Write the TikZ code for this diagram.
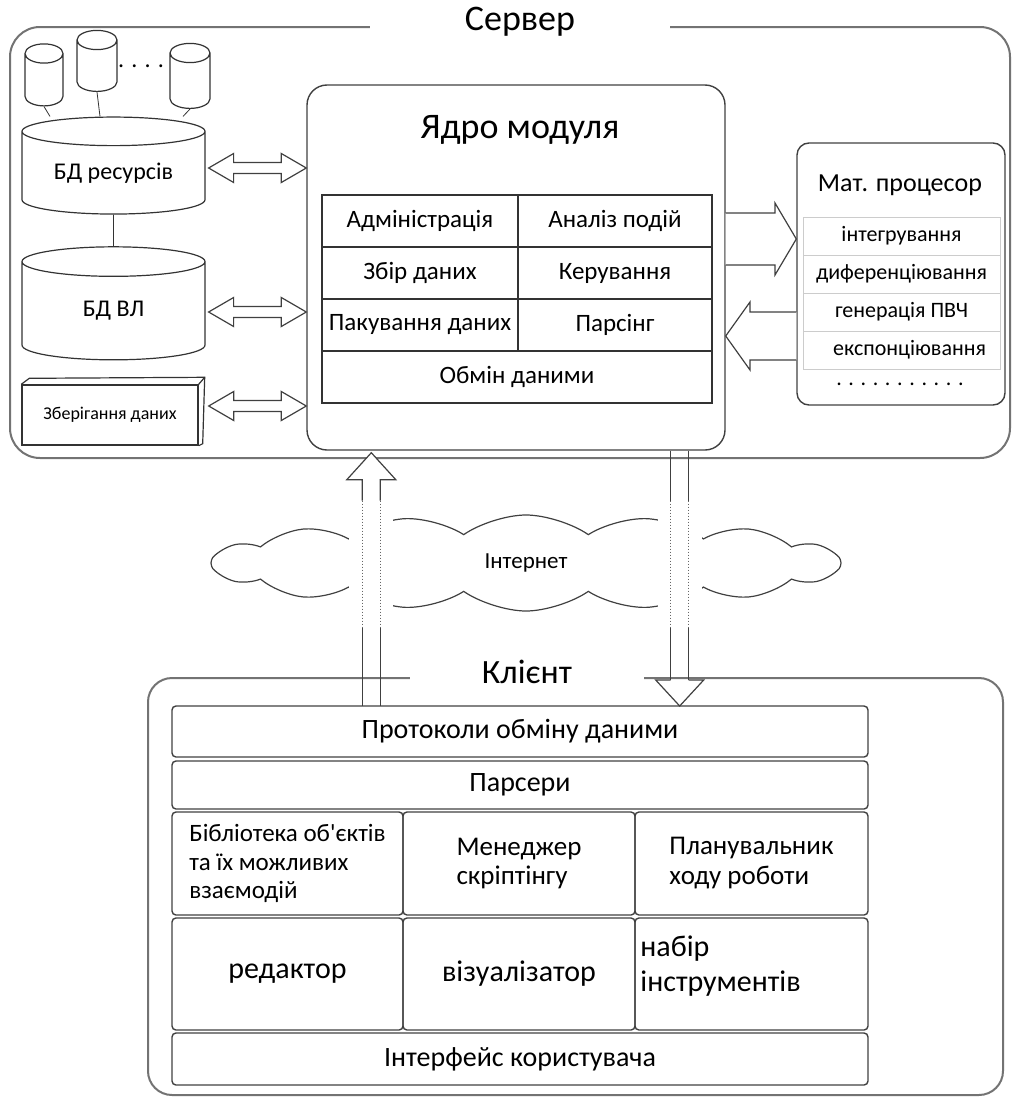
\documentclass[tikz,border=0pt]{standalone}
\usepackage{fontspec}
\setmainfont{Carlito}[Ligatures=TeXOff]
\usetikzlibrary{shapes.geometric,shapes.symbols,positioning,calc}

\tikzset{
  frame/.style={draw=black!55, line width=1pt, rounded corners=#1},
  box/.style={draw=black!75, line width=0.7pt, rounded corners=#1},
  cell/.style={draw=black!80, line width=0.8pt, inner sep=0pt, outer sep=0pt, minimum height=26pt},
  ccell/.style={draw=black!75, line width=0.7pt, rounded corners=2pt, inner sep=0pt, outer sep=0pt},
  mcell/.style={draw=black!20, line width=0.5pt, inner sep=0pt, outer sep=0pt, minimum width=98.5pt, minimum height=19pt},
  cyl/.style={draw=black!80, line width=0.6pt, cylinder, shape border rotate=90, inner sep=0pt},
  blockarrow/.style={draw=black!75, line width=0.6pt, fill=white},
}

% hollow double arrow between two points on one line
\newcommand{\dblarrow}[2]{%
  \draw[blockarrow] #1 -- ($#1+(25,-14.5)$) -- ($#1+(25,-5.5)$)
    -- ($#2+(-25,-5.5)$) -- ($#2+(-25,-14.5)$) -- #2
    -- ($#2+(-25,14.5)$) -- ($#2+(-25,5.5)$) -- ($#1+(25,5.5)$)
    -- ($#1+(25,14.5)$) -- cycle;}

\begin{document}
\begin{tikzpicture}[x=0.5pt,y=-0.5pt]
  \useasboundingbox (0,0) rectangle (1012,1103);

  % server
  \node[frame=15pt, minimum width=500pt, minimum height=215.5pt] (server) at (510,242.5) {};
  \node[fill=white, minimum width=150pt, font=\fontsize{18}{20}\selectfont] (srvtitle) at (520,22) {Сервер};

  % databases
  \node[cyl, minimum width=19pt, minimum height=31pt, aspect=0.6] (c1) at (44,80) {\hspace*{16pt}};
  \node[cyl, minimum width=20pt, minimum height=30.5pt, aspect=0.6] (c2) at (97,66) {\hspace*{16pt}};
  \node[cyl, minimum width=20pt, minimum height=32.5pt, aspect=0.6] (c3) at (190,81) {\hspace*{16pt}};
  \node[font=\fontsize{12}{14}\selectfont] (cdots) at (141,66) {. . . .};
  \node[cyl, minimum width=91.5pt, minimum height=48.5pt, aspect=0.24, font=\fontsize{12}{14}\selectfont] (bdres) at (113.5,173) {БД ресурсів};
  \node[cyl, minimum width=91.5pt, minimum height=56.5pt, aspect=0.48, font=\fontsize{12}{14}\selectfont] (bdvl) at (113.5,311) {БД ВЛ};
  \draw[black!80] (c1.south) -- (bdres.north -| 50,0);
  \draw[black!80] (c2.south) -- (bdres.north -| 100,0);
  \draw[black!80] (c3.south) -- (bdres.north -| 183,0);
  \draw[black!80] (bdres.south) -- (bdvl.north);

  \node[draw=black!80, line width=0.7pt, minimum width=88pt, minimum height=30pt, inner sep=0pt,
        font=\fontsize{9}{11}\selectfont] (store) at (110,415) {Зберігання даних};
  \draw[black!80, line width=0.6pt] (store.north west) -- ++(8,-6) -- ($(store.north east)+(6,-7)$)
    -- ($(store.south east)+(4,-2)$) -- (store.south east);
  \draw[black!80, line width=0.6pt] (store.north east) -- ($(store.north east)+(6,-7)$);

  % core
  \node[box=10pt, minimum width=209pt, minimum height=182.5pt] (core) at (516,267.5) {};
  \node[font=\fontsize{18}{20}\selectfont] (coretitle) at (520,130) {Ядро модуля};
  \begin{scope}[every node/.append style={font=\fontsize{12.5}{14}\selectfont}]
    \node[cell, minimum width=98pt, anchor=north west] (adm) at (322,195) {Адміністрація};
    \node[cell, minimum width=97pt, right=0pt of adm] (anl) {Аналіз подій};
    \node[cell, minimum width=98pt, below=0pt of adm] (zbir) {Збір даних};
    \node[cell, minimum width=97pt, below=0pt of anl] (ker) {Керування};
    \node[cell, minimum width=98pt, below=0pt of zbir] (pak) {Пакування даних};
    \node[cell, minimum width=97pt, below=0pt of ker] (prs) {Парсінг};
    \node[cell, minimum width=195pt, anchor=north west] (obm) at (pak.south west) {Обмін даними};
  \end{scope}

  \coordinate (a1) at ($(bdres.east)+(3,-5)$);
  \coordinate (a2) at ($(bdvl.east)+(3,1)$);
  \coordinate (a3) at ($(store.east)+(10,-9)$);
  \dblarrow{(a1)}{(core.west |- a1)}
  \dblarrow{(a2)}{(core.west |- a2)}
  \dblarrow{(a3)}{(core.west |- a3)}

  % math processor
  \node[box=6pt, minimum width=104pt, minimum height=131pt] (matproc) at (901,274) {};
  \node[font=\fontsize{13}{15}\selectfont] (mattitle) at (900,185) {Мат. процесор};
  \begin{scope}[every node/.append style={font=\fontsize{11}{13}\selectfont}]
    \node[mcell, anchor=north] (int) at (901.5,217) {інтегрування};
    \node[mcell, below=0pt of int] (dif) {диференціювання};
    \node[mcell, below=0pt of dif] (gen) {генерація ПВЧ};
    \node[mcell, below=0pt of gen] (exp) {\hspace*{8pt}експонціювання};
    \node (mdots) at (900,384) {. . . . . . . . . . .};
  \end{scope}

  \draw[blockarrow] (core.east |- 0,213) -- (775,213) -- (775,203) -- (matproc.west |- 0,239)
    -- (775,275) -- (775,265) -- (core.east |- 0,265);
  \draw[blockarrow] (matproc.west |- 0,312) -- (750,312) -- (750,302) -- (core.east |- 0,336)
    -- (750,370) -- (750,360) -- (matproc.west |- 0,360);

  % internet
  \node[cloud, draw=black!75, line width=0.6pt, cloud puffs=16, cloud puff arc=70, cloud ignores aspect,
        minimum width=315pt, minimum height=48pt, font=\fontsize{11.5}{13}\selectfont] (inet) at (526,563) {Інтернет};

  % client
  \node[frame=12pt, minimum width=427.5pt, minimum height=208.5pt] (client) at (575.5,886.5) {};
  \node[fill=white, minimum width=117pt, font=\fontsize{17}{19}\selectfont] (clititle) at (527,672) {Клієнт};
  \node[ccell, minimum width=348pt, minimum height=25.5pt, anchor=north west, font=\fontsize{14}{16}\selectfont] (proto) at (172,706) {Протоколи обміну даними};
  \node[ccell, minimum width=348pt, minimum height=24pt, below=2pt of proto, font=\fontsize{14}{16}\selectfont] (parsers) {Парсери};
  \node[ccell, minimum width=115.5pt, minimum height=51.5pt, anchor=north west, align=left,
        font=\fontsize{12.5}{14.3}\selectfont] (lib) at (172,812) {Бібліотека об'єктів\\та їх можливих\\взаємодій};
  \node[ccell, minimum width=116pt, minimum height=51.5pt, right=0pt of lib, align=left,
        font=\fontsize{13.5}{14.5}\selectfont] (mgr) {Менеджер\\скріптінгу};
  \node[ccell, minimum width=116.5pt, minimum height=51.5pt, right=0pt of mgr, align=left,
        font=\fontsize{13.5}{15}\selectfont] (plan) {Планувальник\\ходу роботи};
  \node[ccell, minimum width=115.5pt, minimum height=56pt, anchor=north west,
        font=\fontsize{15}{17}\selectfont] (edit) at (172,918) {редактор};
  \node[ccell, minimum width=116pt, minimum height=56pt, right=0pt of edit,
        font=\fontsize{15}{17}\selectfont] (vis) {візуалізатор};
  \node[ccell, minimum width=116.5pt, minimum height=56pt, right=0pt of vis] (tools) {};
  \node[align=left, anchor=west, inner sep=0pt, font=\fontsize{15}{17.5}\selectfont] (toolstxt)
    at ($(tools.west)+(5,-8)$) {набір\\інструментів};
  \node[ccell, minimum width=348pt, minimum height=26pt, anchor=north west, font=\fontsize{14}{16}\selectfont] (ui) at (172,1033) {Інтерфейс користувача};

  % up and down arrows
  \coordinate (uptip) at ($(core.south west)+(65,2)$);
  \coordinate (dntop) at ($(core.south east)+(-46,0)$);
  \coordinate (dntip) at (dntop |- proto.north);
  \fill[white] ($(uptip)+(-22,48)$) rectangle ($(uptip)+(22,175)$);
  \fill[white] ($(dntop)+(-22,50)$) rectangle ($(dntop)+(22,177)$);
  \draw[blockarrow] ($(uptip)+(-9,48)$) -- ($(uptip)+(-9,27)$) -- ($(uptip)+(-24.5,27)$) -- (uptip)
    -- ($(uptip)+(24.5,27)$) -- ($(uptip)+(9,27)$) -- ($(uptip)+(9,48)$);
  \draw[blockarrow] ($(dntip)+(-9,-26)$) -- ($(dntip)+(-24,-26)$) -- (dntip)
    -- ($(dntip)+(24,-26)$) -- ($(dntip)+(9,-26)$);
  \foreach \s in {-9,9} {
    \draw[black!75, line width=0.6pt] ($(uptip)+(\s,175)$) -- ($(uptip |- proto.north)+(\s,0)$);
    \draw[black!60, line width=0.5pt, densely dotted] ($(uptip)+(\s,48)$) -- ($(uptip)+(\s,175)$);
    \draw[black!75, line width=0.6pt] (dntop) ++(\s,0) -- ($(dntop)+(\s,50)$);
    \draw[black!60, line width=0.5pt, densely dotted] ($(dntop)+(\s,50)$) -- ($(dntop)+(\s,177)$);
    \draw[black!75, line width=0.6pt] ($(dntop)+(\s,177)$) -- ($(dntip)+(\s,-26)$);
  }
\end{tikzpicture}
\end{document}
